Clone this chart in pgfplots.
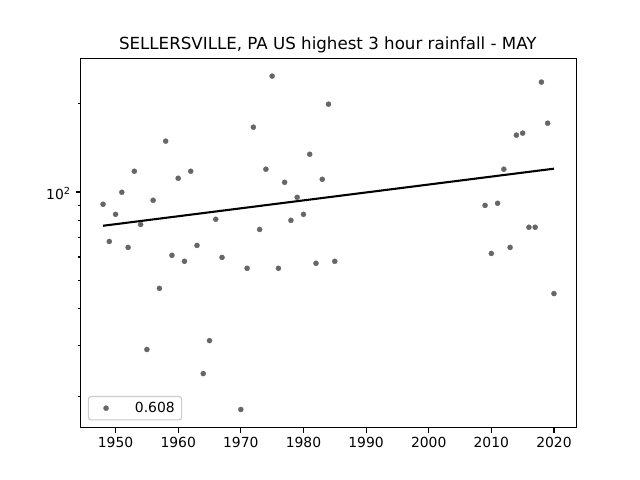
\documentclass[border=0pt]{standalone}
\usepackage{fontspec}
\setmainfont{DejaVu Sans}
\usepackage{pgfplots}
\pgfplotsset{compat=1.18}
\definecolor{markgray}{RGB}{102,102,102}
\begin{document}
\begin{tikzpicture}
	% page is 6.4in x 4.8in, axis box as in a default figure
	\path[use as bounding box, fill=white] (-0.805in,-0.523in) rectangle (5.595in,4.277in);
	\begin{axis}[
		at={(0,0)}, anchor=south west,
		scale only axis,
		width=4.96in, height=3.696in,
		ymode=log,
		xmin=1944.4, xmax=2023.6,
		ymin=15.69, ymax=286.4,
		xtick={1950,1960,...,2020},
		ytick={100},
		yticklabels={{10\textsuperscript{2}}},
		minor ytick={20,30,40,50,60,70,80,90,200},
		x tick label style={/pgf/number format/1000 sep={}, /pgf/number format/assume math mode=true},
		y tick label style={yshift=-1bp},
		tick label style={font=\fontsize{10bp}{12bp}\selectfont},
		tick align=outside,
		xtick pos=bottom, ytick pos=left,
		major tick length=3.5bp, minor tick length=2bp,
		every tick/.style={black, line width=0.8bp},
		axis line style={line width=0.8bp},
		title={SELLERSVILLE, PA US highest 3 hour rainfall - MAY},
		title style={font=\fontsize{12bp}{14bp}\selectfont, yshift=-6bp, xshift=-0.5bp},
		legend cell align=left,
		legend image code/.code={
			\path (-0.13in,0cm) (0cm,0cm);
			\draw[#1] plot coordinates {(0cm,0cm)};
		},
		legend style={
			at={(0.0147,0.0195)}, anchor=south west,
			draw=black!20, rounded corners=2bp, line width=0.8bp,
			font=\fontsize{10bp}{12bp}\selectfont, inner ysep=2bp,
			/tikz/every even column/.append style={column sep=6bp},
		},
		]
		% yearly maxima
		\addplot[only marks, mark=*, mark size=1.85bp, mark options={draw=markgray, fill=markgray, line width=0.2bp}]
		coordinates {
			(1948,90.8) (1949,67.8) (1950,83.9) (1951,99.8) (1952,64.7) (1953,117.7)
			(1954,77.5) (1955,29.0) (1956,93.7) (1957,46.9) (1958,149.1) (1959,60.8)
			(1960,111.4) (1961,58.0) (1962,117.7) (1963,65.7) (1964,24.0) (1965,31.1)
			(1966,80.7) (1967,59.8) (1970,18.1) (1971,54.9) (1972,166.4) (1973,74.5)
			(1974,119.6) (1975,248.6) (1976,54.9) (1977,107.9) (1978,80.0) (1979,95.9)
			(1980,83.9) (1981,134.5) (1982,57.1) (1983,110.5) (1984,199.4) (1985,58.0)
			(2009,90.0) (2010,61.7) (2011,91.5) (2012,119.6) (2013,64.7) (2014,156.3)
			(2015,158.8) (2016,75.8) (2017,75.8) (2018,237.2) (2019,171.7) (2020,45.0)
		};
		\addlegendentry{\hspace{17bp}0.608}
		% trend line
		\addplot[forget plot, black, line width=1.5bp] coordinates {(1948,76.7) (2020,120.1)};
	\end{axis}
\end{tikzpicture}
\end{document}
